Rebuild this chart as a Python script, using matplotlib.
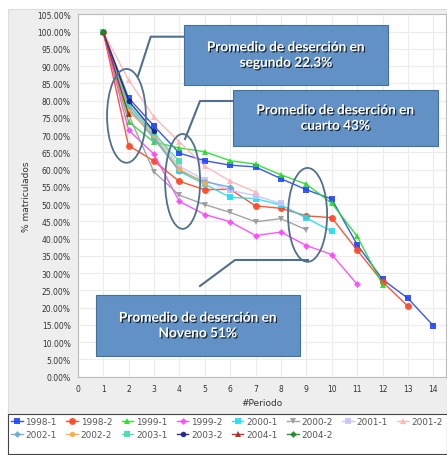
import matplotlib
matplotlib.use("Agg")
import matplotlib.pyplot as plt
import matplotlib.patheffects as pe
from matplotlib.patches import Ellipse, Rectangle
from matplotlib.lines import Line2D
import numpy as np

# cohort retention (% still enrolled) per period
cohorts = ["1998-1", "1998-2", "1999-1", "1999-2", "2000-1", "2000-2", "2001-1",
           "2001-2", "2002-1", "2002-2", "2003-1", "2003-2", "2004-1", "2004-2"]

s_1998_1 = [100, 80.8, 72.7, 64.8, 62.6, 61.3, 60.8, 57.4, 54.2, 51.5, 38.3, 28.2, 22.7, 14.8]
s_1998_2 = [100, 67.0, 62.5, 56.6, 54.2, 54.3, 49.5, 48.8, 46.6, 46.1, 36.7, 27.5, 20.4]
s_1999_1 = [100, 73.9, 68.0, 66.3, 65.2, 62.6, 61.6, 58.5, 55.8, 50.3, 40.7, 26.7]
s_1999_2 = [100, 71.5, 64.5, 50.8, 47.0, 44.9, 40.9, 41.9, 38.0, 35.4, 26.8]
s_2000_1 = [100, 79.0, 69.5, 59.5, 55.8, 52.0, 51.6, 49.8, 46.0, 42.1]
s_2000_2 = [100, 76.0, 59.4, 52.6, 49.9, 47.6, 44.9, 45.8, 42.6]
s_2001_1 = [100, 77.5, 71.0, 61.0, 57.0, 54.0, 52.5, 50.2]
s_2001_2 = [100, 86.0, 75.3, 68.0, 61.0, 56.7, 53.5]
s_2002_1 = [100, 78.0, 69.0, 59.7, 56.5, 55.0]
s_2002_2 = [100, 77.0, 70.0, 60.2, 56.0]
s_2003_1 = [100, 79.0, 70.5, 62.4]
s_2003_2 = [100, 80.0, 71.1]
s_2004_1 = [100, 76.0]
s_2004_2 = [100]

series = [s_1998_1, s_1998_2, s_1999_1, s_1999_2, s_2000_1, s_2000_2, s_2001_1,
          s_2001_2, s_2002_1, s_2002_2, s_2003_1, s_2003_2, s_2004_1, s_2004_2]

colors = ["#2244ff", "#ff4422", "#22dd22", "#ff44ff", "#22ddee", "#999999", "#c4c4ff",
          "#ffb4b4", "#66aadd", "#ffaa44", "#44ddaa", "#1c1c8c", "#b02020", "#1e8a1e"]
markers = ["s", "o", "^", "D", "s", "v", "s", "^", "D", "o", "s", "o", "^", "D"]
msizes = [5, 5, 5, 3.5, 5, 4.5, 4, 4, 3.5, 4, 5, 4, 4, 3.5]

W, H = 447, 456
fig = plt.figure(figsize=(W / 100, H / 100), dpi=100)
fig.patch.set_facecolor("white")

def px(x, y):
    return x / W, 1 - y / H

# grey panel behind the chart and white legend box
fig.patches.append(Rectangle(px(8, 415), (W - 8) / W, (415 - 10) / H,
                             transform=fig.transFigure, facecolor="#eeeeee",
                             edgecolor="#dddddd", lw=0.8, zorder=-10))
fig.patches.append(Rectangle(px(8, 455), (W - 8) / W, (455 - 415) / H,
                             transform=fig.transFigure, facecolor="white",
                             edgecolor="#444444", lw=0.8, zorder=-10))

left, right, top, bottom = 77.7, 446, 15.4, 377.7
ax = fig.add_axes([left / W, 1 - bottom / H, (right - left) / W, (bottom - top) / H])
ax.set_facecolor("white")

handles = []
for name, vals, c, m, ms in zip(cohorts, series, colors, markers, msizes):
    x = np.arange(1, len(vals) + 1)
    h, = ax.plot(x, vals, color=c, marker=m, markersize=ms, lw=1.0, alpha=0.9,
                 markeredgewidth=0, label=name)
    handles.append(h)

ax.set_xlim(0, 14.5)
ax.set_ylim(0, 105)
ax.set_xticks(range(0, 15))
ax.set_yticks(np.arange(0, 106, 5))
ax.set_yticklabels([f"{v:.2f}%" for v in np.arange(0, 106, 5)])
ax.tick_params(labelsize=5.5, colors="#333333", length=0, pad=5)
ax.grid(True, color="#ececec", lw=0.8)
ax.set_axisbelow(True)
for sp in ax.spines.values():
    sp.set_color("#bbbbbb")
    sp.set_linewidth(0.8)
ax.set_xlabel("#Periodo", fontsize=6.5, color="#333333", labelpad=4)
ax.set_ylabel("% matriculados", fontsize=6.5, color="#333333", labelpad=4)

# ellipses around the periods highlighted
ell_color = "#50708f"
for cx, cy, w, h in [(1.92, 75.6, 1.53, 27.2), (4.13, 56.6, 1.38, 27.5), (9.05, 46.9, 1.54, 27.2)]:
    ax.add_patch(Ellipse((cx, cy), w, h, fill=False, edgecolor=ell_color, lw=1.3, zorder=5))

# callout boxes
box_fc, box_ec = "#6291c6", "#41719c"
boxes = [
    (184, 26, 388, 86, "Promedio de deserción en\nsegundo 22.3%"),
    (233, 91, 438, 147, "Promedio de deserción en\ncuarto 43%"),
    (96, 296, 300, 357, "Promedio de deserción en\nNoveno 51%"),
]
for x0, y0, x1, y1, txt in boxes:
    fx, fy = px(x0, y1)
    fig.patches.append(Rectangle((fx, fy), (x1 - x0) / W, (y1 - y0) / H,
                                 transform=fig.transFigure, facecolor=box_fc,
                                 edgecolor=box_ec, lw=0.8, zorder=10))
    tx, ty = px((x0 + x1) / 2, (y0 + y1) / 2)
    fig.text(tx, ty, txt, ha="center", va="center", color="white", fontsize=9.8,
             fontweight="bold", family="Lato", linespacing=1.35, zorder=11,
             path_effects=[pe.withSimplePatchShadow(offset=(0.9, -0.9),
                                                    shadow_rgbFace="black", alpha=0.75)])

connectors = [
    [(184, 37.7), (150.7, 37.7), (138, 77)],
    [(233, 102), (200, 102), (185, 140)],
    [(200, 287), (235, 261), (308, 261)],
]
for pts in connectors:
    xs = [p[0] / W for p in pts]
    ys = [1 - p[1] / H for p in pts]
    fig.lines.append(Line2D(xs, ys, transform=fig.transFigure, color=ell_color,
                            lw=1.5, zorder=9))

# legend laid out row by row
order = [0, 8, 1, 9, 2, 10, 3, 11, 4, 12, 5, 13, 6, 7]
fig.legend([handles[i] for i in order], [cohorts[i] for i in order],
           ncol=8, loc="upper left", bbox_to_anchor=(9 / W, 1 - 416 / H, (W - 11) / W, 0.001),
           mode="expand", frameon=False, fontsize=6.4, handlelength=1.3,
           handletextpad=0.3, columnspacing=0.2, borderaxespad=0, labelspacing=0.5,
           borderpad=0.25, labelcolor="#555555")

fig.savefig("out.png", dpi=100)
